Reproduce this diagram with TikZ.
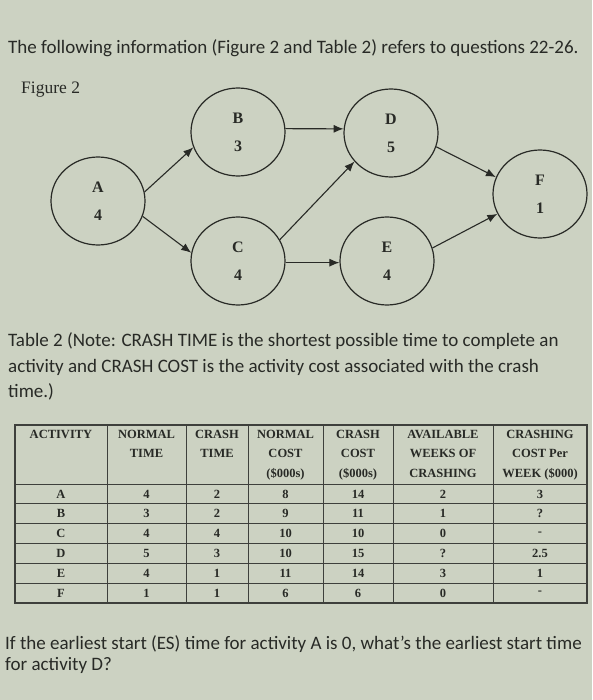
\documentclass[tikz,border=0pt]{standalone}
\usepackage{fontspec}
\setmainfont{Liberation Serif}
\newfontfamily\calib{Carlito}
\usetikzlibrary{arrows.meta,positioning,shapes.geometric}
\definecolor{screenbg}{RGB}{204,210,194}
\definecolor{ink}{RGB}{40,42,38}
\definecolor{gridline}{RGB}{62,64,60}

\begin{document}
\begin{tikzpicture}[x=1pt, y=-1pt,
  act/.style={draw=ink, line width=1.2pt, ellipse, minimum width=94pt,
              minimum height=88pt, inner sep=0pt, align=center, text=ink,
              font=\bfseries\fontsize{16}{28}\selectfont},
  prec/.style={draw=ink, line width=1.1pt, -{Latex[length=10pt,width=8pt]}},
  para/.style={anchor=base west, inner sep=0pt, text=ink,
               font=\calib\fontsize{19}{24}\selectfont},
  cell/.style={inner sep=0pt, text=ink,
               font=\bfseries\fontsize{12.5}{19.5}\selectfont}]
  \fill[screenbg] (0,0) rectangle (592,700);

  \node[para] (intro) at (8,54)
    {The following information (Figure 2 and Table 2) refers to questions 22-26.};
  \node[anchor=base west, inner sep=0pt, text=ink,
        font=\fontsize{17.5}{20}\selectfont] (figlbl) at (21,94) {Figure 2};

  % network
  \node[act] (A) at (98,201) {A\\4};
  \node[act] (B) at (238,132) {B\\3};
  \node[act] (C) at (238,261) {C\\4};
  \node[act] (D) at (391,133) {D\\5};
  \node[act] (E) at (387,261) {E\\4};
  \node[act] (F) at (540,194) {F\\1};

  \draw[prec] (A.11) -- (B.199);
  \draw[prec] (A.-19) -- (C.170);
  \draw[prec] (B.4) -- (D.175);
  \draw[prec] (C.27) -- (D.218);
  \draw[prec] (C.-2) -- (E.182);
  \draw[prec] (D.-17) -- (F.159);
  \draw[prec] (E.16) -- (F.205);

  \node[para] (note1) at (8,346)
    {Table 2 (Note: CRASH TIME is the shortest possible time to complete an};
  \node[para] (note2) at (8,372)
    {activity and CRASH COST is the activity cost associated with the crash};
  \node[para] (note3) at (8,397) {time.)};

  % table
  \draw[gridline, line width=1.1pt] (15,425) rectangle (587,603);
  \foreach \x in {107,186,248,323,393,493}
    \draw[gridline, line width=1pt] (\x,425) -- (\x,603);
  \foreach \y in {484,503.5,523.3,543.2,563,583}
    \draw[gridline, line width=1pt] (15,\y) -- (587,\y);

  \foreach \c/\xc/\txt in {1/61/{ACTIVITY}, 2/146.5/{NORMAL\\TIME},
      3/217/{CRASH\\TIME}, 4/285.5/{NORMAL\\COST\\(\$000s)},
      5/358/{CRASH\\COST\\(\$000s)}, 6/443/{AVAILABLE\\WEEKS OF\\CRASHING},
      7/540/{CRASHING\\COST Per\\WEEK (\$000)}}
    \node[cell, anchor=north, align=center] (h\c) at (\xc,430) {\txt};

  \foreach \r/\vals in {0/{A,4,2,8,14,2,3}, 1/{B,3,2,9,11,1,?},
      2/{C,4,4,10,10,0,-}, 3/{D,5,3,10,15,?,2.5},
      4/{E,4,1,11,14,3,1}, 5/{F,1,1,6,6,0,-}}{
    \foreach [count=\c from 0] \v in \vals{
      \pgfmathsetmacro{\xc}{{61,146.5,217,285.5,358,443,540}[\c]}
      \node[cell] (v\r\c) at (\xc,494+\r*19.8) {\v};
    }
  }

  \node[para] (ques1) at (5,649)
    {If the earliest start (ES) time for activity A is 0, what’s the earliest start time};
  \node[para] (ques2) at (5,670) {for activity D?};
\end{tikzpicture}
\end{document}
